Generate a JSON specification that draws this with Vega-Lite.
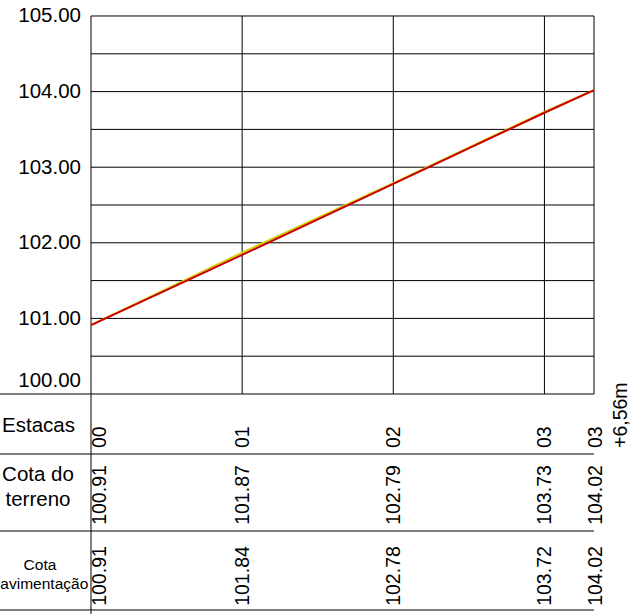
{
  "$schema": "https://vega.github.io/schema/vega-lite/v6.json",
  "width": 637,
  "height": 614,
  "autosize": "none",
  "padding": 0,
  "background": "white",
  "config": {"view": {"stroke": null}, "font": "Liberation Sans"},
  "datasets": {
    "stations": [
      {"est": "00", "dist": 0, "terreno": 100.91, "pav": 100.91},
      {"est": "01", "dist": 20, "terreno": 101.87, "pav": 101.84},
      {"est": "02", "dist": 40, "terreno": 102.79, "pav": 102.78},
      {"est": "03", "dist": 60, "terreno": 103.73, "pav": 103.72},
      {"est": "03\n+6,56m", "dist": 66.56, "terreno": 104.02, "pav": 104.02}
    ],
    "hgrid": [
      {"cota": 100.5}, {"cota": 101}, {"cota": 101.5}, {"cota": 102}, {"cota": 102.5},
      {"cota": 103}, {"cota": 103.5}, {"cota": 104}, {"cota": 104.5}, {"cota": 105}
    ],
    "tlines": [
      {"cota": 100}, {"cota": 99.2063}, {"cota": 98.1878}, {"cota": 97.1429}
    ],
    "rowlabels": [{"a": "Estacas", "b": "Cota do\nterreno", "c": "Cota\npavimentação"}]
  },
  "data": {"name": "stations"},
  "layer": [
    {
      "data": {"name": "hgrid"},
      "mark": {"type": "rule", "color": "black", "strokeWidth": 1},
      "encoding": {
        "y": {"field": "cota", "type": "quantitative",
          "scale": {"domain": [97.0899, 105.2116], "nice": false, "zero": false},
          "axis": {"values": [100, 101, 102, 103, 104, 105], "format": ".2f", "offset": -91,
            "domain": false, "ticks": false, "grid": false, "title": null,
            "labelFontSize": 20.5, "labelFont": "Liberation Sans", "labelColor": "black",
            "labelPadding": 10.5, "labelBaseline": "middle",
            "labelOffset": {"condition": {"test": "datum.value == 100", "value": -13}, "value": 0}}},
        "x": {"datum": 0, "type": "quantitative",
          "scale": {"domain": [-12.042, 72.249], "nice": false, "zero": false}, "axis": null},
        "x2": {"datum": 66.56}
      }
    },
    {
      "data": {"name": "tlines"},
      "mark": {"type": "rule", "color": "black", "strokeWidth": 1},
      "encoding": {
        "y": {"field": "cota", "type": "quantitative"},
        "x": {"datum": -12.042, "type": "quantitative"},
        "x2": {"datum": 66.56}
      }
    },
    {
      "mark": {"type": "rule", "color": "black", "strokeWidth": 1},
      "encoding": {
        "x": {"field": "dist", "type": "quantitative"},
        "y": {"datum": 100},
        "y2": {"datum": 105}
      }
    },
    {
      "data": {"values": [{"d": 0}]},
      "mark": {"type": "rule", "color": "black", "strokeWidth": 1},
      "encoding": {
        "x": {"field": "d", "type": "quantitative"},
        "y": {"datum": 97.0899},
        "y2": {"datum": 100}
      }
    },
    {
      "mark": {"type": "line", "color": "#d4d000", "strokeWidth": 2},
      "encoding": {
        "x": {"field": "dist", "type": "quantitative"},
        "y": {"field": "terreno", "type": "quantitative"}
      }
    },
    {
      "mark": {"type": "line", "color": "#c80000", "strokeWidth": 2},
      "encoding": {
        "x": {"field": "dist", "type": "quantitative"},
        "y": {"field": "pav", "type": "quantitative"}
      }
    },
    {
      "data": {"name": "rowlabels"},
      "layer": [
        {
          "mark": {"type": "text", "fontSize": 20.5, "align": "center", "baseline": "middle", "color": "black"},
          "encoding": {"x": {"datum": -6.947}, "y": {"datum": 99.58}, "text": {"field": "a"}}
        },
        {
          "mark": {"type": "text", "fontSize": 20.5, "align": "center", "baseline": "middle", "color": "black", "lineBreak": "\n", "lineHeight": 25},
          "encoding": {"x": {"datum": -7.013}, "y": {"datum": 98.922}, "text": {"field": "b"}}
        },
        {
          "mark": {"type": "text", "fontSize": 15.5, "align": "center", "baseline": "middle", "color": "black", "lineBreak": "\n", "lineHeight": 19},
          "encoding": {"x": {"datum": -6.75}, "y": {"datum": 97.738}, "text": {"field": "c"}}
        }
      ]
    },
    {
      "transform": [{"filter": "datum.dist == 0"}],
      "layer": [
        {"mark": {"type": "text", "fontSize": 19.5, "angle": 270, "align": "left", "baseline": "middle", "dx": 6, "dy": 9, "color": "black"},
         "encoding": {"x": {"field": "dist", "type": "quantitative"}, "y": {"datum": 99.2063}, "text": {"field": "est"}}},
        {"mark": {"type": "text", "fontSize": 19.5, "angle": 270, "align": "center", "baseline": "middle", "dy": 9, "color": "black"},
         "encoding": {"x": {"field": "dist", "type": "quantitative"}, "y": {"datum": 98.664}, "text": {"field": "terreno", "type": "quantitative", "format": ".2f"}}},
        {"mark": {"type": "text", "fontSize": 19.5, "angle": 270, "align": "center", "baseline": "middle", "dy": 9, "color": "black"},
         "encoding": {"x": {"field": "dist", "type": "quantitative"}, "y": {"datum": 97.5926}, "text": {"field": "pav", "type": "quantitative", "format": ".2f"}}}
      ]
    },
    {
      "transform": [{"filter": "datum.dist > 0 && datum.dist < 66"}],
      "layer": [
        {"mark": {"type": "text", "fontSize": 19.5, "angle": 270, "align": "left", "baseline": "middle", "dx": 6, "dy": 1, "color": "black"},
         "encoding": {"x": {"field": "dist", "type": "quantitative"}, "y": {"datum": 99.2063}, "text": {"field": "est"}}},
        {"mark": {"type": "text", "fontSize": 19.5, "angle": 270, "align": "center", "baseline": "middle", "dy": 1, "color": "black"},
         "encoding": {"x": {"field": "dist", "type": "quantitative"}, "y": {"datum": 98.664}, "text": {"field": "terreno", "type": "quantitative", "format": ".2f"}}},
        {"mark": {"type": "text", "fontSize": 19.5, "angle": 270, "align": "center", "baseline": "middle", "dy": 1, "color": "black"},
         "encoding": {"x": {"field": "dist", "type": "quantitative"}, "y": {"datum": 97.5926}, "text": {"field": "pav", "type": "quantitative", "format": ".2f"}}}
      ]
    },
    {
      "transform": [{"filter": "datum.dist > 66"}],
      "layer": [
        {"mark": {"type": "text", "fontSize": 19.5, "angle": 270, "align": "left", "baseline": "middle", "dx": 6, "dy": 2, "color": "black", "lineBreak": "\n", "lineHeight": 25},
         "encoding": {"x": {"field": "dist", "type": "quantitative"}, "y": {"datum": 99.2063}, "text": {"field": "est"}}},
        {"mark": {"type": "text", "fontSize": 19.5, "angle": 270, "align": "center", "baseline": "middle", "dy": 2, "color": "black"},
         "encoding": {"x": {"field": "dist", "type": "quantitative"}, "y": {"datum": 98.664}, "text": {"field": "terreno", "type": "quantitative", "format": ".2f"}}},
        {"mark": {"type": "text", "fontSize": 19.5, "angle": 270, "align": "center", "baseline": "middle", "dy": 2, "color": "black"},
         "encoding": {"x": {"field": "dist", "type": "quantitative"}, "y": {"datum": 97.5926}, "text": {"field": "pav", "type": "quantitative", "format": ".2f"}}}
      ]
    }
  ]
}
